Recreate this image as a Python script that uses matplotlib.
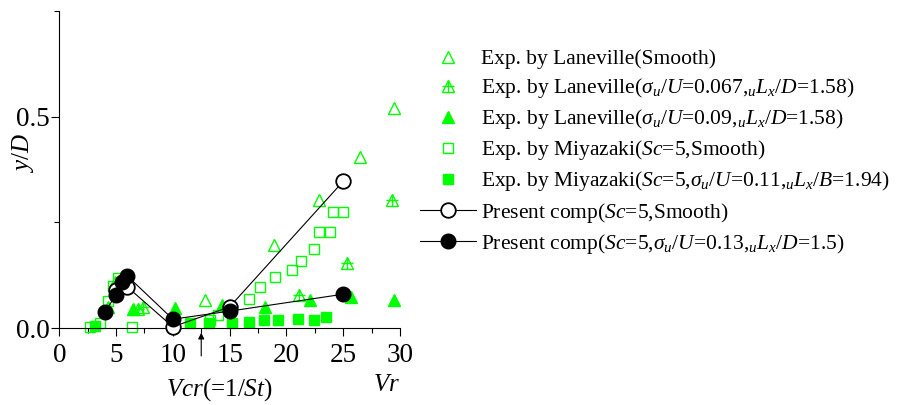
import matplotlib
import numpy as np

matplotlib.use("Agg")
import matplotlib.pyplot as plt  # noqa: E402
from matplotlib.legend_handler import HandlerTuple  # noqa: E402
from matplotlib.ticker import FormatStrFormatter, MultipleLocator  # noqa: E402

plt.rcParams["font.family"] = "Liberation Serif"
plt.rcParams["mathtext.fontset"] = "custom"
plt.rcParams["mathtext.rm"] = "Liberation Serif"
plt.rcParams["mathtext.it"] = "Liberation Serif:italic"

GREEN = "#00ff00"

# Laneville, smooth flow (open triangles)
lan_smooth_x = [4.9, 12.85, 18.9, 22.9, 26.45, 29.5]
lan_smooth_y = [0.110, 0.066, 0.196, 0.302, 0.405, 0.520]

# Laneville, sigma_u/U = 0.067 (crossed triangles)
lan_067_x = [6.9, 7.4, 21.15, 25.3, 29.3]
lan_067_y = [0.046, 0.050, 0.078, 0.153, 0.302]

# Laneville, sigma_u/U = 0.09 (filled triangles)
lan_09_x = [4.3, 6.5, 10.2, 14.3, 18.15, 22.1, 25.65, 29.5]
lan_09_y = [0.050, 0.046, 0.047, 0.054, 0.050, 0.066, 0.074, 0.066]

# Miyazaki, smooth flow (open squares)
miy_smooth_x = [2.7, 3.6, 4.3, 4.7, 5.2, 6.4, 13.3, 14.0, 16.7, 17.7, 19.0,
                20.5, 21.3, 22.4, 22.9, 23.8, 24.1, 25.0]
miy_smooth_y = [0.003, 0.012, 0.065, 0.100, 0.118, 0.003, 0.018, 0.031, 0.068,
                0.097, 0.121, 0.137, 0.158, 0.187, 0.227, 0.227, 0.274, 0.274]

# Miyazaki, turbulent flow (filled squares)
miy_turb_x = [3.15, 11.5, 13.15, 15.2, 16.7, 18.0, 19.3, 21.0, 22.4, 23.5]
miy_turb_y = [0.004, 0.011, 0.011, 0.011, 0.015, 0.019, 0.019, 0.021, 0.020, 0.025]

# present computation
comp_smooth_x = [5, 6, 10, 15, 25]
comp_smooth_y = [0.090, 0.097, 0.003, 0.050, 0.347]
comp_turb_x = [4, 5, 5.5, 6, 10, 15, 25]
comp_turb_y = [0.038, 0.078, 0.109, 0.123, 0.021, 0.040, 0.080]

vcr = 12.5

labels = [
    "Exp. by Laneville(Smooth)",
    r"Exp. by Laneville($\sigma_u$/$U$=0.067,${}_uL_x$/$D$=1.58)",
    r"Exp. by Laneville($\sigma_u$/$U$=0.09,${}_uL_x$/$D$=1.58)",
    r"Exp. by Miyazaki($Sc$=5,Smooth)",
    r"Exp. by Miyazaki($Sc$=5,$\sigma_u$/$U$=0.11,${}_uL_x$/$B$=1.94)",
    r"Present comp($Sc$=5,Smooth)",
    r"Present comp($Sc$=5,$\sigma_u$/$U$=0.13,${}_uL_x$/$D$=1.5)",
]

fig = plt.figure(figsize=(9.19, 4.05), dpi=100)
ax = fig.add_axes([0.0645, 0.19, 0.3707, 0.783])

h1, = ax.plot(lan_smooth_x, lan_smooth_y, ls="none", marker="^", ms=8,
              mfc="none", mec=GREEN, mew=1.0, clip_on=False)
h2a, = ax.plot(lan_067_x, lan_067_y, ls="none", marker="^", ms=8,
               mfc="none", mec=GREEN, mew=1.0, clip_on=False)
h2b, = ax.plot(lan_067_x, lan_067_y, ls="none", marker="+", ms=9,
               mec=GREEN, mew=1.0, clip_on=False)
h3, = ax.plot(lan_09_x, lan_09_y, ls="none", marker="^", ms=8,
              mfc=GREEN, mec=GREEN, clip_on=False)
h4, = ax.plot(miy_smooth_x, miy_smooth_y, ls="none", marker="s", ms=7,
              mfc="none", mec=GREEN, mew=1.0, clip_on=False)
h5, = ax.plot(miy_turb_x, miy_turb_y, ls="none", marker="s", ms=6.5,
              mfc=GREEN, mec=GREEN, clip_on=False)
h6, = ax.plot(comp_smooth_x, comp_smooth_y, color="black", lw=0.8, marker="o",
              ms=10.5, mfc="white", mec="black", mew=1.3, clip_on=False, zorder=4)
h7, = ax.plot(comp_turb_x, comp_turb_y, color="black", lw=0.8, marker="o",
              ms=10.5, mfc="black", mec="black", clip_on=False, zorder=5)

ax.annotate("", xy=(vcr, -0.011), xytext=(vcr, -0.066),
            arrowprops=dict(arrowstyle="-|>", color="black", lw=0.8,
                            mutation_scale=9, shrinkA=0, shrinkB=0),
            annotation_clip=False)

ax.set_xlim(0, 30)
ax.set_ylim(0, 0.75)
ax.spines["top"].set_visible(False)
ax.spines["right"].set_visible(False)
ax.xaxis.set_major_locator(MultipleLocator(5))
ax.xaxis.set_minor_locator(MultipleLocator(2.5))
ax.yaxis.set_major_locator(MultipleLocator(0.5))
ax.yaxis.set_minor_locator(MultipleLocator(0.25))
ax.yaxis.set_major_formatter(FormatStrFormatter("%.1f"))
ax.tick_params(which="major", direction="out", length=6, width=0.8,
               labelsize=19.5)
ax.tick_params(which="minor", direction="out", length=3.5, width=0.8)
ax.tick_params(axis="x", pad=5)
ax.tick_params(axis="y", pad=1)

ax.text(-0.106, 0.553, "$y$/$D$", transform=ax.transAxes, rotation=90,
        ha="center", va="center", fontsize=18)
ax.text(0.47, -0.195, "$Vcr$(=1/$St$)", transform=ax.transAxes,
        ha="center", va="center", fontsize=18)
ax.text(0.96, -0.18, "$Vr$", transform=ax.transAxes,
        ha="center", va="center", fontsize=18)

fig.legend([h1, (h2a, h2b), h3, h4, h5, h6, h7], labels,
           handler_map={tuple: HandlerTuple(ndivide=1, pad=0)},
           loc="upper left", bbox_to_anchor=(420 / 919, 1 - 49 / 405),
           frameon=False, fontsize=15.5, handlelength=2.6, handletextpad=0.25,
           borderpad=0, borderaxespad=0, labelspacing=0.33)

fig.savefig("out.png", dpi=100)
